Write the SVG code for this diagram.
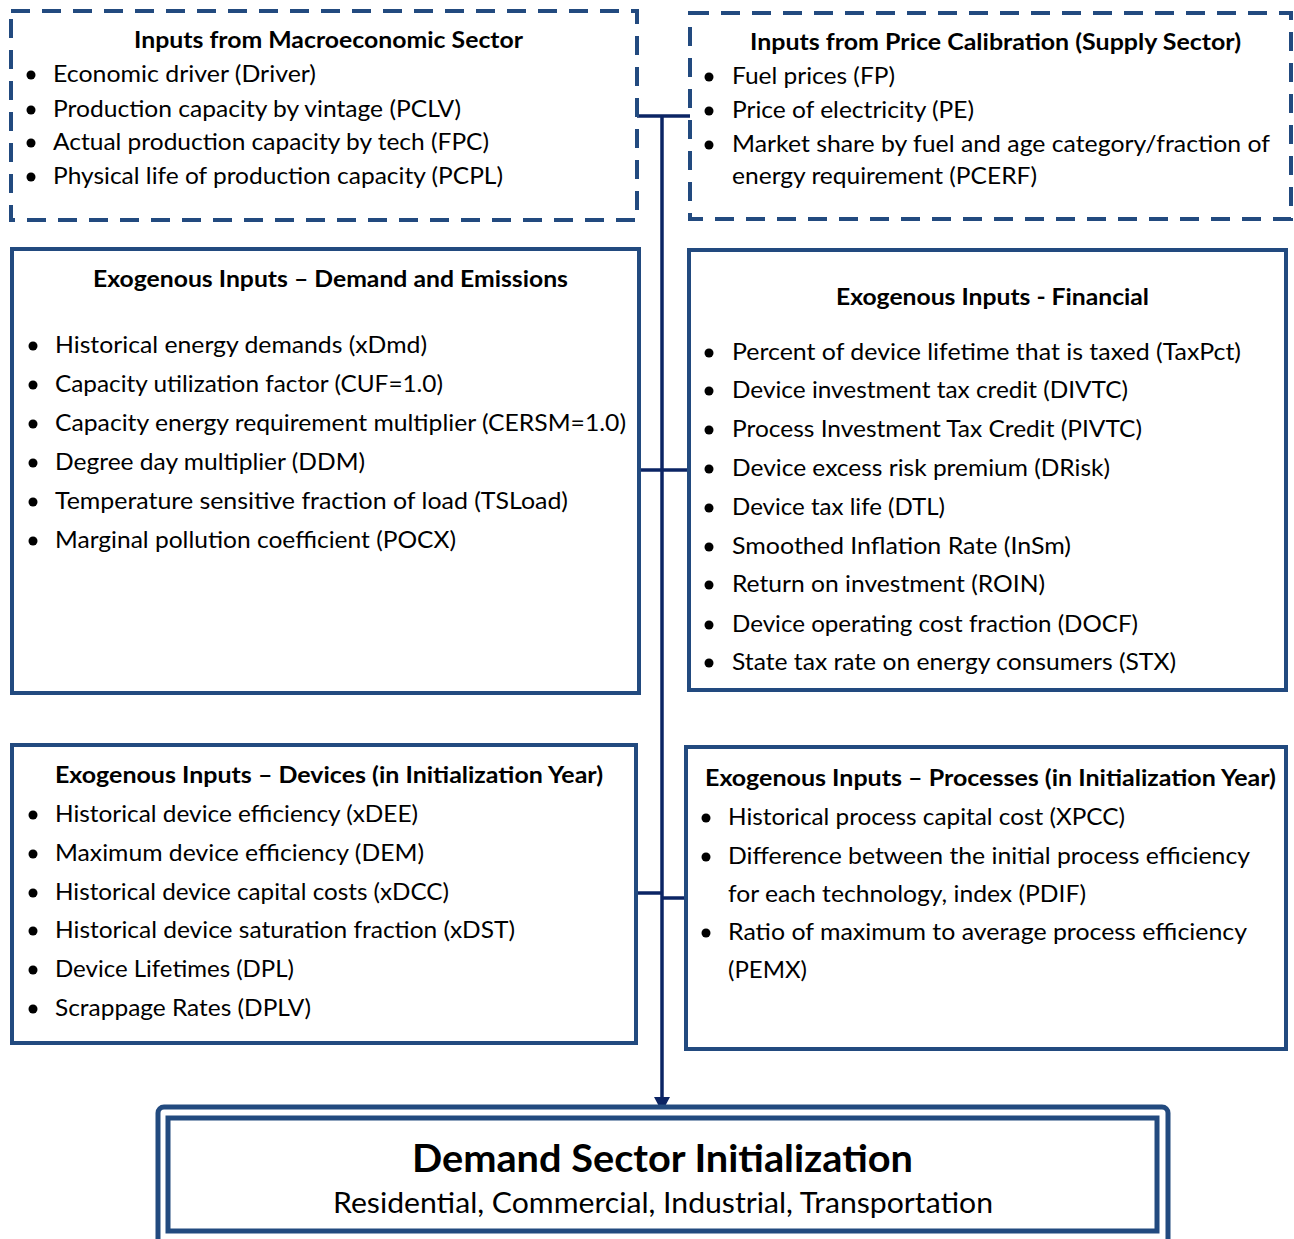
<svg xmlns="http://www.w3.org/2000/svg" width="1294" height="1239" viewBox="0 0 1294 1239">
  <style>
    .box { fill: #ffffff; stroke: #224a7f; stroke-width: 4; }
    .dash { stroke-dasharray: 19 12; }
    .t { font-family: Lato, "Liberation Sans", sans-serif; font-size: 23px; fill: #000000; }
    .h { font-weight: bold; }
    .big { font-family: Lato, "Liberation Sans", sans-serif; font-size: 38px; font-weight: bold; fill: #000000; }
    .sub { font-family: Lato, "Liberation Sans", sans-serif; font-size: 28px; fill: #000000; }
    .conn { fill: none; stroke: #0b2464; stroke-width: 3.5; }
    .head { fill: #0b2464; }
    .dot { fill: #000000; }
  </style>
  <rect width="1294" height="1239" fill="#ffffff"/>

  <!-- connectors: trunk line with branches from each input box -->
  <g id="connectors">
    <path class="conn" d="M637,116 H690"/>
    <path class="conn" d="M639,470 H689"/>
    <path class="conn" d="M636,893 H662"/>
    <path class="conn" d="M662,898 H686"/>
    <path class="conn" d="M662,116 V1098"/>
    <path class="head" d="M654,1097 L670,1097 L662,1112 Z"/>
  </g>

  <!-- macroeconomic inputs -->
  <g id="macro">
    <rect class="box dash" x="11" y="11" width="626" height="209"/>
    <text class="t h" x="134" y="48" textLength="389" lengthAdjust="spacingAndGlyphs">Inputs from Macroeconomic Sector</text>
    <circle class="dot" cx="31" cy="75" r="4.5"/>
    <text class="t" x="53" y="82" textLength="263" lengthAdjust="spacingAndGlyphs">Economic driver (Driver)</text>
    <circle class="dot" cx="31" cy="110" r="4.5"/>
    <text class="t" x="53" y="117" textLength="408" lengthAdjust="spacingAndGlyphs">Production capacity by vintage (PCLV)</text>
    <circle class="dot" cx="31" cy="143" r="4.5"/>
    <text class="t" x="53" y="150" textLength="436" lengthAdjust="spacingAndGlyphs">Actual production capacity by tech (FPC)</text>
    <circle class="dot" cx="31" cy="177" r="4.5"/>
    <text class="t" x="53" y="184" textLength="450" lengthAdjust="spacingAndGlyphs">Physical life of production capacity (PCPL)</text>
  </g>

  <!-- price calibration inputs -->
  <g id="price">
    <rect class="box dash" x="690" y="13" width="601" height="206"/>
    <text class="t h" x="750" y="50" textLength="491" lengthAdjust="spacingAndGlyphs">Inputs from Price Calibration (Supply Sector)</text>
    <circle class="dot" cx="709" cy="77" r="4.5"/>
    <text class="t" x="732" y="84" textLength="163" lengthAdjust="spacingAndGlyphs">Fuel prices (FP)</text>
    <circle class="dot" cx="709" cy="111" r="4.5"/>
    <text class="t" x="732" y="118" textLength="242" lengthAdjust="spacingAndGlyphs">Price of electricity (PE)</text>
    <circle class="dot" cx="709" cy="145" r="4.5"/>
    <text class="t" x="732" y="152" textLength="538" lengthAdjust="spacingAndGlyphs">Market share by fuel and age category/fraction of</text>
    <text class="t" x="732" y="184" textLength="305" lengthAdjust="spacingAndGlyphs">energy requirement (PCERF)</text>
  </g>

  <!-- demand and emissions -->
  <g id="demand-emissions">
    <rect class="box" x="12" y="249" width="627" height="444"/>
    <text class="t h" x="93" y="287" textLength="475" lengthAdjust="spacingAndGlyphs">Exogenous Inputs – Demand and Emissions</text>
    <circle class="dot" cx="33" cy="346" r="4.5"/>
    <text class="t" x="55" y="353" textLength="372" lengthAdjust="spacingAndGlyphs">Historical energy demands (xDmd)</text>
    <circle class="dot" cx="33" cy="385" r="4.5"/>
    <text class="t" x="55" y="392" textLength="388" lengthAdjust="spacingAndGlyphs">Capacity utilization factor (CUF=1.0)</text>
    <circle class="dot" cx="33" cy="424" r="4.5"/>
    <text class="t" x="55" y="431" textLength="571" lengthAdjust="spacingAndGlyphs">Capacity energy requirement multiplier (CERSM=1.0)</text>
    <circle class="dot" cx="33" cy="463" r="4.5"/>
    <text class="t" x="55" y="470" textLength="310" lengthAdjust="spacingAndGlyphs">Degree day multiplier (DDM)</text>
    <circle class="dot" cx="33" cy="502" r="4.5"/>
    <text class="t" x="55" y="509" textLength="513" lengthAdjust="spacingAndGlyphs">Temperature sensitive fraction of load (TSLoad)</text>
    <circle class="dot" cx="33" cy="541" r="4.5"/>
    <text class="t" x="55" y="548" textLength="401" lengthAdjust="spacingAndGlyphs">Marginal pollution coefficient (POCX)</text>
  </g>

  <!-- financial -->
  <g id="financial">
    <rect class="box" x="689" y="250" width="597" height="440"/>
    <text class="t h" x="836" y="305" textLength="313" lengthAdjust="spacingAndGlyphs">Exogenous Inputs - Financial</text>
    <circle class="dot" cx="709" cy="353" r="4.5"/>
    <text class="t" x="732" y="360" textLength="509" lengthAdjust="spacingAndGlyphs">Percent of device lifetime that is taxed (TaxPct)</text>
    <circle class="dot" cx="709" cy="391" r="4.5"/>
    <text class="t" x="732" y="398" textLength="396" lengthAdjust="spacingAndGlyphs">Device investment tax credit (DIVTC)</text>
    <circle class="dot" cx="709" cy="430" r="4.5"/>
    <text class="t" x="732" y="437" textLength="410" lengthAdjust="spacingAndGlyphs">Process Investment Tax Credit (PIVTC)</text>
    <circle class="dot" cx="709" cy="469" r="4.5"/>
    <text class="t" x="732" y="476" textLength="378" lengthAdjust="spacingAndGlyphs">Device excess risk premium (DRisk)</text>
    <circle class="dot" cx="709" cy="508" r="4.5"/>
    <text class="t" x="732" y="515" textLength="213" lengthAdjust="spacingAndGlyphs">Device tax life (DTL)</text>
    <circle class="dot" cx="709" cy="547" r="4.5"/>
    <text class="t" x="732" y="554" textLength="339" lengthAdjust="spacingAndGlyphs">Smoothed Inflation Rate (InSm)</text>
    <circle class="dot" cx="709" cy="585" r="4.5"/>
    <text class="t" x="732" y="592" textLength="313" lengthAdjust="spacingAndGlyphs">Return on investment (ROIN)</text>
    <circle class="dot" cx="709" cy="625" r="4.5"/>
    <text class="t" x="732" y="632" textLength="406" lengthAdjust="spacingAndGlyphs">Device operating cost fraction (DOCF)</text>
    <circle class="dot" cx="709" cy="663" r="4.5"/>
    <text class="t" x="732" y="670" textLength="444" lengthAdjust="spacingAndGlyphs">State tax rate on energy consumers (STX)</text>
  </g>

  <!-- devices -->
  <g id="devices">
    <rect class="box" x="12" y="745" width="624" height="298"/>
    <text class="t h" x="55" y="783" textLength="548" lengthAdjust="spacingAndGlyphs">Exogenous Inputs – Devices (in Initialization Year)</text>
    <circle class="dot" cx="33" cy="815" r="4.5"/>
    <text class="t" x="55" y="822" textLength="363" lengthAdjust="spacingAndGlyphs">Historical device efficiency (xDEE)</text>
    <circle class="dot" cx="33" cy="854" r="4.5"/>
    <text class="t" x="55" y="861" textLength="369" lengthAdjust="spacingAndGlyphs">Maximum device efficiency (DEM)</text>
    <circle class="dot" cx="33" cy="893" r="4.5"/>
    <text class="t" x="55" y="900" textLength="394" lengthAdjust="spacingAndGlyphs">Historical device capital costs (xDCC)</text>
    <circle class="dot" cx="33" cy="931" r="4.5"/>
    <text class="t" x="55" y="938" textLength="460" lengthAdjust="spacingAndGlyphs">Historical device saturation fraction (xDST)</text>
    <circle class="dot" cx="33" cy="970" r="4.5"/>
    <text class="t" x="55" y="977" textLength="239" lengthAdjust="spacingAndGlyphs">Device Lifetimes (DPL)</text>
    <circle class="dot" cx="33" cy="1009" r="4.5"/>
    <text class="t" x="55" y="1016" textLength="256" lengthAdjust="spacingAndGlyphs">Scrappage Rates (DPLV)</text>
  </g>

  <!-- processes -->
  <g id="processes">
    <rect class="box" x="686" y="747" width="600" height="302"/>
    <text class="t h" x="705" y="786" textLength="571" lengthAdjust="spacingAndGlyphs">Exogenous Inputs – Processes (in Initialization Year)</text>
    <circle class="dot" cx="706" cy="818" r="4.5"/>
    <text class="t" x="728" y="825" textLength="397" lengthAdjust="spacingAndGlyphs">Historical process capital cost (XPCC)</text>
    <circle class="dot" cx="706" cy="857" r="4.5"/>
    <text class="t" x="728" y="864" textLength="522" lengthAdjust="spacingAndGlyphs">Difference between the initial process efficiency</text>
    <text class="t" x="728" y="902" textLength="358" lengthAdjust="spacingAndGlyphs">for each technology, index (PDIF)</text>
    <circle class="dot" cx="706" cy="933" r="4.5"/>
    <text class="t" x="728" y="940" textLength="519" lengthAdjust="spacingAndGlyphs">Ratio of maximum to average process efficiency</text>
    <text class="t" x="728" y="978" textLength="79" lengthAdjust="spacingAndGlyphs">(PEMX)</text>
  </g>

  <!-- demand sector initialization: double-framed target box -->
  <g id="initialization">
    <rect x="158" y="1107" width="1010" height="140" rx="6" fill="#ffffff" stroke="#224a7f" stroke-width="5"/>
    <rect x="168" y="1118" width="989" height="113" fill="#ffffff" stroke="#224a7f" stroke-width="5"/>
    <text class="big" x="412" y="1172" textLength="501" lengthAdjust="spacingAndGlyphs">Demand Sector Initialization</text>
    <text class="sub" x="333" y="1213" textLength="660" lengthAdjust="spacingAndGlyphs">Residential, Commercial, Industrial, Transportation</text>
  </g>
</svg>
